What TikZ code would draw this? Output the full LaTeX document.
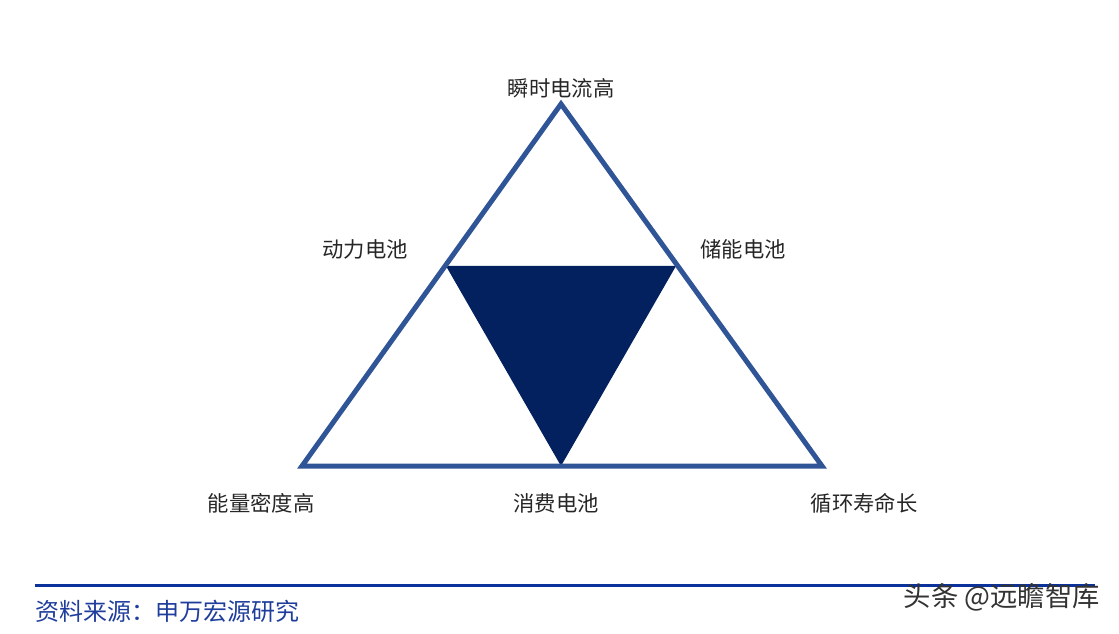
\documentclass[tikz,border=0pt]{standalone}
\usepackage{fontspec}
\newfontfamily\cjk{Noto Sans CJK SC}
\definecolor{edgeblue}{HTML}{2F5597}
\definecolor{coreblue}{HTML}{03215F}
\definecolor{srcblue}{HTML}{1F3E9C}
\definecolor{ruleblue}{HTML}{0B329A}
\tikzset{
  lbl/.style={font=\cjk\fontsize{16}{18}\selectfont,text=black!85,inner sep=0pt,anchor=center},
}
\begin{document}
\begin{tikzpicture}[x=0.75pt,y=-0.75pt]
        \useasboundingbox (0,0) rectangle (1119,634);
        \coordinate (top) at (561,104);
        \coordinate (bl) at (302,466);
        \coordinate (br) at (822,466);
        \coordinate (ml) at (446,266);
        \coordinate (mr) at (676,266);
        \coordinate (mb) at (561,466);
        \fill[coreblue] (ml) -- (mr) -- (mb) -- cycle;
        \draw[edgeblue,line width=3.75pt] (top) -- (bl) -- (br) -- cycle;
        \node[lbl] (current) at (561,88) {瞬时电流高};
        \node[lbl] (power) at (365,249) {动力电池};
        \node[lbl] (storage) at (743,249) {储能电池};
        \node[lbl] (energy) at (261,503) {能量密度高};
        \node[lbl] (consumer) at (556,503) {消费电池};
        \node[lbl] (cycle) at (864,503) {循环寿命长};
        \draw[ruleblue,line width=2.25pt] (35,585) -- (1095,585);
        \node[anchor=west,inner sep=0pt,text=srcblue,font=\cjk\fontsize{18}{20}\selectfont] (source) at (35,611) {资料来源：申万宏源研究};
        \node[anchor=east,inner sep=0pt,text=black!80,font=\cjk\fontsize{20.5}{22}\selectfont] (mark) at (1100,597) {头条 @远瞻智库};
    \end{tikzpicture}
\end{document}
